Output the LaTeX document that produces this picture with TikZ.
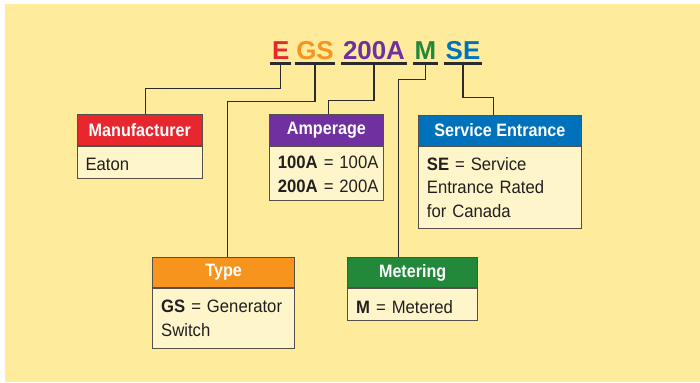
\documentclass[tikz,border=0pt]{standalone}
\usepackage{fontspec}
\setmainfont{Liberation Sans}
\newfontfamily\hdfont{Liberation Sans}[FakeStretch=0.9]
\newfontfamily\bodyfont{Liberation Sans}[FakeStretch=0.93]
\definecolor{bgc}{HTML}{FEEC9C}
\definecolor{bodyc}{HTML}{FFF5CA}
\definecolor{redc}{HTML}{E8262D}
\definecolor{orangec}{HTML}{F7941E}
\definecolor{purplec}{HTML}{7030A0}
\definecolor{bluec}{HTML}{0072BC}
\definecolor{greenc}{HTML}{22893B}
\definecolor{linec}{HTML}{2B2B2B}
\definecolor{boxline}{HTML}{55504A}
\definecolor{textc}{HTML}{231F20}
\newcommand{\myTop}[1]{\rule{0pt}{#1bp}}
\newcommand{\myBot}[1]{\rule[-#1bp]{0pt}{0pt}}
\begin{document}
\begin{tikzpicture}[x=1bp,y=-1bp,
  code/.style={font=\fontsize{26}{26}\selectfont\bfseries, inner xsep=1.5bp, inner ysep=0pt, anchor=base},
  uline/.style={line width=3bp, draw=linec},
  conn/.style={line width=1.3bp, draw=linec},
  hdr/.style={draw=boxline, line width=0.8bp, minimum height=31bp, inner sep=0pt,
    font=\hdfont\fontsize{18}{20}\selectfont\bfseries, text=white, anchor=north west},
  body/.style={draw=boxline, line width=0.8bp, fill=bodyc, anchor=north west,
    inner xsep=8.5bp, inner ysep=0pt, align=left,
    font=\bodyfont\fontsize{18}{24}\selectfont, text=textc}
]
\useasboundingbox (0,0) rectangle (700,382);
\fill[bgc] (5,4) rectangle (700,382);

% code letters
\node[code, text=redc]    (e)  at (280.8,59.5) {E};
\node[code, text=orangec] (gs) at (315,59.5) {GS};
\node[code, text=purplec] (a)  at (374,59.5) {200A};
\node[code, text=greenc]  (m)  at (425.5,59.5) {M};
\node[code, text=bluec]   (se) at (463,59.5) {SE};
\foreach \n in {e,gs,a,m,se}{
  \draw[uline] ([yshift=-4.3bp]\n.base west) -- ([yshift=-4.3bp]\n.base east);
  \coordinate (\n u) at ([yshift=-4.3bp]\n.base);
}

% Manufacturer
\node[hdr, fill=redc, minimum width=125.5bp] (manh) at (76.7,114) {Manufacturer};
\node[body, text width=108.5bp, minimum width=125.5bp] (manb) at (manh.south west)
  {\myTop{24.3}Eaton\myBot{7.7}};

% Amperage
\node[hdr, fill=purplec, minimum width=114bp] (amph) at (269,114) {Amperage};
\node[body, text width=97bp, minimum width=114bp] (ampb) at (amph.south west)
  {\myTop{22.5}\mbox{\textbf{100A} = 100A}\\\mbox{\textbf{200A} = 200A}\myBot{8}};

% Service Entrance
\node[hdr, fill=bluec, minimum width=163bp] (seh) at (418,114.5) {Service Entrance};
\node[body, text width=146bp, minimum width=163bp] (seb) at (seh.south west)
  {\myTop{23.3}\textbf{SE} = Service\\Entrance Rated\\for Canada\myBot{11}};

% Type
\node[hdr, fill=orangec, minimum width=142bp, minimum height=30.3bp] (typh) at (152.3,257) {Type};
\node[body, text width=125bp, minimum width=142bp] (typb) at (typh.south west)
  {\myTop{24.4}\mbox{\textbf{GS} = Generator}\\Switch\myBot{11.3}};

% Metering
\node[hdr, fill=greenc, minimum width=130bp, minimum height=30.3bp] (meth) at (347.3,257) {Metering};
\node[body, text width=113bp, minimum width=130bp] (metb) at (meth.south west)
  {\myTop{25}\textbf{M} = Metered\myBot{6.6}};

% connectors
\draw[conn] (eu) -- ++(0,25) -| ([xshift=5.7bp]manh.north);
\draw[conn] (gsu) -- ++(0,38) -| ([xshift=3.5bp]typh.north);
\draw[conn] (au) -- ++(0,37) -| ([xshift=2bp]amph.north);
\draw[conn] (mu) -- ++(0,16) -| ([xshift=-14bp]meth.north);
\draw[conn] (seu) -- ++(0,34) -| ([xshift=-6.5bp]seh.north);
\end{tikzpicture}
\end{document}
